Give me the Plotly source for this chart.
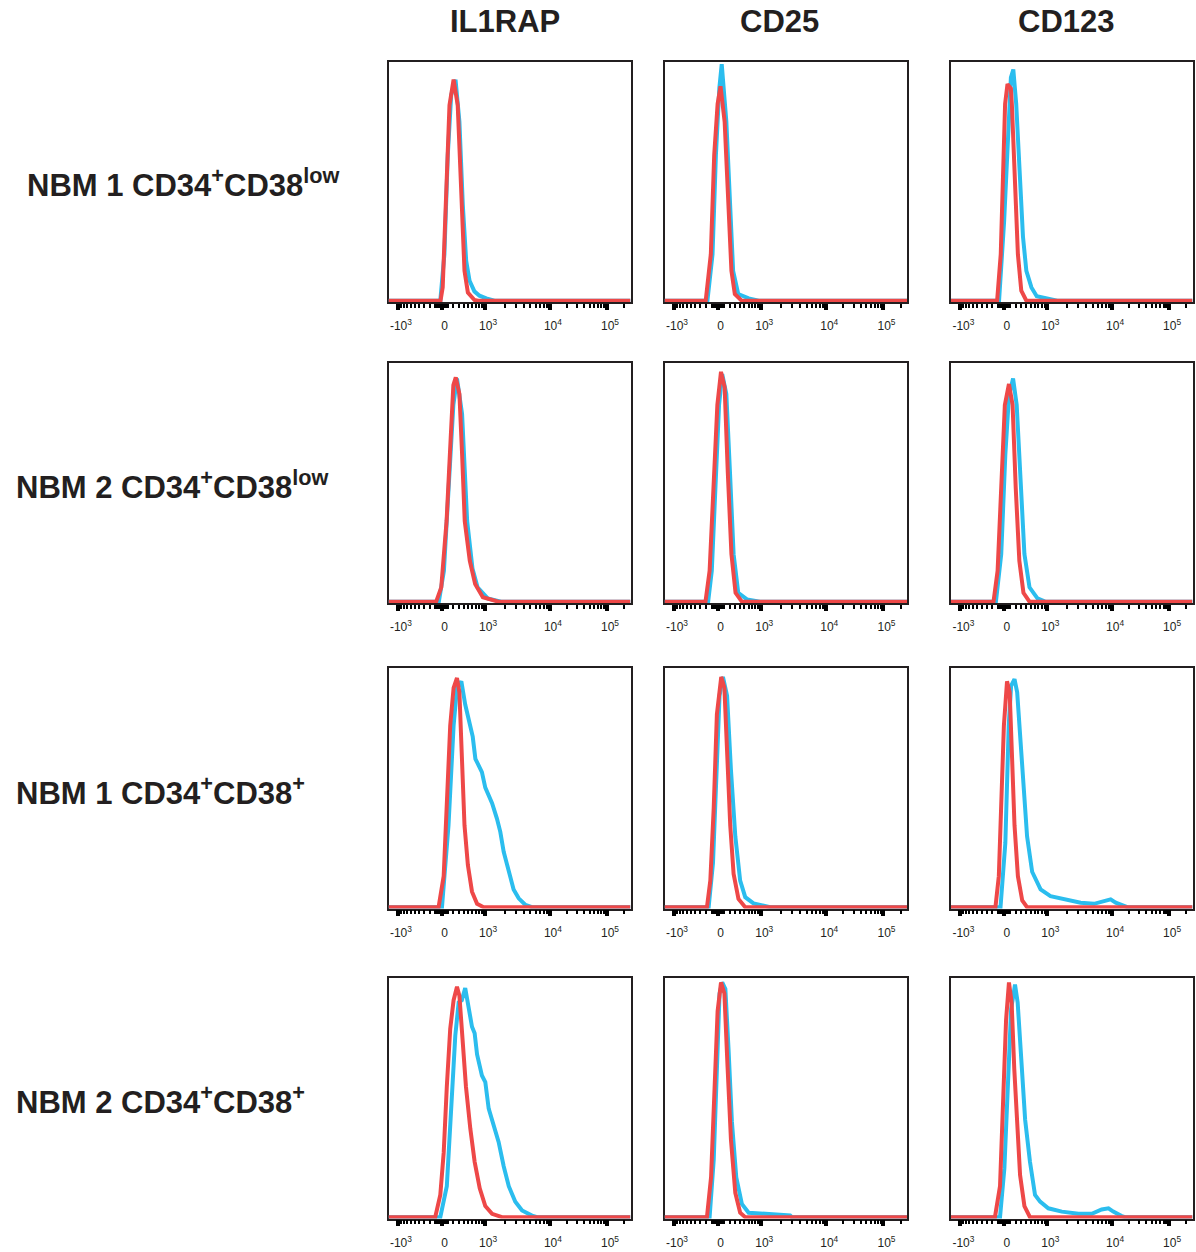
import numpy as np
import plotly.graph_objects as go

# ---------------- labels ----------------
COLUMN_TITLES = ["IL1RAP", "CD25", "CD123"]
ROW_TITLES = [
    "NBM 1 CD34<sup>+</sup>CD38<sup>low</sup>",
    "NBM 2 CD34<sup>+</sup>CD38<sup>low</sup>",
    "NBM 1 CD34<sup>+</sup>CD38<sup>+</sup>",
    "NBM 2 CD34<sup>+</sup>CD38<sup>+</sup>",
]
TICK_VALUES = [-1000, 0, 1000, 10000, 100000]
TICK_TEXT = ["-10<sup>3</sup>", "0", "10<sup>3</sup>", "10<sup>4</sup>", "10<sup>5</sup>"]
MINOR_TICK_VALUES = (
    list(range(-900, -100, 100))
    + list(range(-100, 101, 10))
    + list(range(200, 1000, 100))
    + [k * 10 ** d for d in (3, 4) for k in range(2, 10)]
    + [200000]
)

# ---------------- histogram data (x: % of biexponential scale, y: % of mode) ----------------
# Row 1: NBM 1 CD34+CD38low
R1_IL1RAP_RED_X = [0, 21.5, 22.4, 23.8, 25.2, 26.9, 28.6, 30.0, 31.4, 32.8, 35.5, 37, 100]
R1_IL1RAP_RED_Y = [0, 0, 6, 51, 88.5, 100, 88.5, 51, 13.5, 3.7, 0.3, 0, 0]
R1_IL1RAP_BLUE_X = [0, 21.4, 23.1, 24.5, 25.9, 27.7, 29.3, 30.7, 32.1, 33.5, 35.5, 37.6, 40.4, 43.8, 100]
R1_IL1RAP_BLUE_Y = [0, 0, 21, 66, 93, 100, 81, 43.5, 18, 9, 4.2, 2.25, 1, 0, 0]

R1_CD25_RED_X = [0, 17.0, 19.1, 20.5, 21.9, 23.1, 24.8, 26.2, 27.6, 29.0, 31.8, 100]
R1_CD25_RED_Y = [0, 0, 21, 66, 89, 97, 81, 44, 13.5, 3, 0, 0]
R1_CD25_BLUE_X = [0, 17.7, 19.8, 21.2, 22.6, 23.6, 25.5, 26.9, 28.3, 30.4, 34.7, 38.9, 100]
R1_CD25_BLUE_Y = [0, 0, 21, 66, 96, 107, 81, 44, 13.5, 3, 1, 0, 0]

R1_CD123_RED_X = [0, 19.1, 20.6, 21.6, 22.4, 23.4, 24.8, 25.2, 26.7, 27.7, 29.1, 31.2, 100]
R1_CD123_RED_Y = [0, 0, 21, 66, 89, 98, 96, 89, 51, 21, 4.5, 0, 0]
R1_CD123_BLUE_X = [0, 19.9, 22.0, 23.4, 24.8, 25.8, 27.0, 28.4, 29.8, 31.2, 33.3, 35.5, 39.7, 44.0, 100]
R1_CD123_BLUE_Y = [0, 0, 36, 74, 101, 104.6, 89, 59, 29, 13.5, 6, 2, 1, 0, 0]

# Row 2: NBM 2 CD34+CD38low
R2_IL1RAP_RED_X = [0, 19.7, 21.8, 24.0, 25.7, 26.8, 27.8, 29.3, 30.4, 31.5, 33.6, 35.8, 39.0, 45.4, 100]
R2_IL1RAP_RED_Y = [0, 0, 6.5, 36.5, 74, 98, 101.5, 94, 67, 36.5, 18.5, 8, 2, 0, 0]
R2_IL1RAP_BLUE_X = [0, 20.8, 22.9, 25.0, 26.8, 28.3, 30.4, 32.5, 34.7, 36.8, 41.0, 46.5, 100]
R2_IL1RAP_BLUE_Y = [0, 0, 14, 51.6, 89, 101, 85, 36.5, 15, 6.5, 1.5, 0, 0]

R2_CD25_RED_X = [0, 16.9, 18.6, 20.3, 21.8, 23.3, 24.8, 26.1, 27.6, 29.3, 31.9, 100]
R2_CD25_RED_Y = [0, 0, 14, 51.6, 89, 104, 97, 58.6, 21.5, 4, 0, 0]
R2_CD25_BLUE_X = [0, 18.0, 19.5, 21.2, 22.5, 23.8, 25.5, 27.0, 28.5, 30.4, 34.0, 39.4, 100]
R2_CD25_BLUE_Y = [0, 0, 14, 51.6, 89, 103, 94, 58.6, 21.5, 4, 1, 0, 0]

R2_CD123_RED_X = [0, 17.6, 19.3, 20.8, 22.3, 24.0, 25.5, 26.8, 28.3, 30.0, 32.5, 100]
R2_CD123_RED_Y = [0, 0, 14, 51.6, 89, 98.5, 89, 51.6, 18.5, 4, 0, 0]
R2_CD123_BLUE_X = [0, 18.6, 20.8, 22.5, 24.0, 25.7, 27.2, 28.9, 30.4, 32.5, 35.8, 39.0, 100]
R2_CD123_BLUE_Y = [0, 0, 21.5, 66.6, 93, 101, 89, 51.6, 21.5, 6.5, 1.5, 0, 0]

# Row 3: NBM 1 CD34+CD38+
R3_IL1RAP_RED_X = [0, 20.7, 22.8, 24.1, 25.5, 26.9, 28.3, 29.3, 30.3, 31.4, 32.8, 34.5, 36.6, 39.3, 100]
R3_IL1RAP_RED_Y = [0, 0, 14, 44, 82, 99, 103.5, 97, 67, 37, 19, 7, 1.5, 0, 0]
R3_IL1RAP_BLUE_X = [0, 22.1, 24.8, 26.9, 28.3, 30.1, 31.7, 33.1, 34.8, 35.9, 38.6, 40.0, 42.8, 44.8,
                    46.2, 47.6, 49.7, 51.7, 53.8, 56.6, 59.3, 100]
R3_IL1RAP_BLUE_Y = [0, 0, 37, 82, 99, 102, 91.5, 84, 77, 67, 61, 54, 47, 40,
                    34, 25, 16, 8, 4, 1, 0, 0]

R3_CD25_RED_X = [0, 17.5, 18.9, 20.3, 21.6, 23.4, 24.7, 25.8, 27.1, 28.5, 30.5, 33.3, 100]
R3_CD25_RED_Y = [0, 0, 12, 45, 87, 104, 99, 70, 37, 15, 3.7, 0, 0]
R3_CD25_BLUE_X = [0, 18.2, 20.0, 21.4, 22.7, 24.1, 25.8, 27.4, 29.2, 31.2, 33.3, 36.7, 42.2, 43.6, 100]
R3_CD25_BLUE_Y = [0, 0, 20, 62, 95.5, 104, 95.5, 62, 32, 12, 4.5, 1.7, 0.5, 0, 0]

R3_CD123_RED_X = [0, 18.4, 19.8, 20.9, 21.9, 23.2, 24.3, 25.3, 26.3, 27.7, 29.5, 31.5, 100]
R3_CD123_RED_Y = [0, 0, 14, 44, 82, 102, 97, 67, 37, 14, 3, 0, 0]
R3_CD123_BLUE_X = [0, 20.5, 22.5, 23.9, 24.9, 26.3, 27.4, 28.8, 30.2, 31.5, 33.6, 37.1, 41.2, 46.7,
                   53.7, 59.2, 63.3, 66.1, 68.2, 71.6, 73.0, 100]
R3_CD123_BLUE_Y = [0, 0, 29, 82, 100, 103, 97, 74, 52, 32, 16, 8, 5, 3.5,
                   2, 1.5, 2.6, 3.5, 2, 0.4, 0, 0]

# Row 4: NBM 2 CD34+CD38+
R4_IL1RAP_RED_X = [0, 19.3, 21.4, 22.8, 24.1, 25.5, 26.9, 28.3, 29.3, 30.6, 32.0, 33.8, 35.6, 37.7,
                   40.0, 42.8, 46.9, 100]
R4_IL1RAP_RED_Y = [0, 0, 10, 29, 59, 85, 98, 104, 100, 82, 59, 40, 25, 13,
                   5, 1.5, 0, 0]
R4_IL1RAP_BLUE_X = [0, 21.4, 24.1, 26.2, 27.6, 29.0, 30.3, 31.7, 33.1, 34.5, 35.6, 36.6, 38.6, 40.0,
                    41.4, 43.4, 45.5, 47.6, 49.7, 52.4, 55.2, 59.3, 61.4, 100]
R4_IL1RAP_BLUE_Y = [0, 0, 14, 52, 82, 97, 98, 103.5, 94, 86, 83, 73.5, 64, 61,
                    49, 41, 34, 23, 14, 7, 3, 0.7, 0, 0]

R4_CD25_RED_X = [0, 17.5, 19.2, 20.5, 21.9, 23.3, 24.7, 26.0, 27.4, 29.2, 31.2, 33.3, 100]
R4_CD25_RED_Y = [0, 0, 18, 60, 93, 106, 101, 68, 35, 11, 2, 0, 0]
R4_CD25_BLUE_X = [0, 18.6, 20.3, 21.6, 22.7, 23.8, 25.1, 26.4, 27.8, 29.6, 31.9, 34.7, 42.2, 51.8, 52.5, 100]
R4_CD25_BLUE_Y = [0, 0, 26, 68, 101, 106, 103, 76, 43, 18, 6, 2, 1.3, 0.8, 0, 0]

R4_CD123_RED_X = [0, 18.2, 20.3, 21.7, 22.8, 24.0, 25.1, 26.2, 27.2, 28.6, 30.4, 32.7, 100]
R4_CD123_RED_Y = [0, 0, 14, 52, 89, 106, 97, 67, 44, 19, 5, 0, 0]
R4_CD123_BLUE_X = [0, 20.3, 22.1, 23.8, 24.9, 25.8, 26.5, 27.6, 29.0, 30.7, 32.7, 34.8, 36.9, 40.3,
                   45.9, 52.8, 58.3, 62.4, 65.2, 67.2, 70.7, 72.1, 100]
R4_CD123_BLUE_Y = [0, 0, 22, 67, 94, 100, 105, 97, 74, 44, 25, 10, 7, 4,
                   2.5, 1.5, 1.5, 3.5, 4, 2.5, 0.5, 0, 0]

PANELS = [
    (0, 0, R1_IL1RAP_RED_X, R1_IL1RAP_RED_Y, R1_IL1RAP_BLUE_X, R1_IL1RAP_BLUE_Y),
    (0, 1, R1_CD25_RED_X, R1_CD25_RED_Y, R1_CD25_BLUE_X, R1_CD25_BLUE_Y),
    (0, 2, R1_CD123_RED_X, R1_CD123_RED_Y, R1_CD123_BLUE_X, R1_CD123_BLUE_Y),
    (1, 0, R2_IL1RAP_RED_X, R2_IL1RAP_RED_Y, R2_IL1RAP_BLUE_X, R2_IL1RAP_BLUE_Y),
    (1, 1, R2_CD25_RED_X, R2_CD25_RED_Y, R2_CD25_BLUE_X, R2_CD25_BLUE_Y),
    (1, 2, R2_CD123_RED_X, R2_CD123_RED_Y, R2_CD123_BLUE_X, R2_CD123_BLUE_Y),
    (2, 0, R3_IL1RAP_RED_X, R3_IL1RAP_RED_Y, R3_IL1RAP_BLUE_X, R3_IL1RAP_BLUE_Y),
    (2, 1, R3_CD25_RED_X, R3_CD25_RED_Y, R3_CD25_BLUE_X, R3_CD25_BLUE_Y),
    (2, 2, R3_CD123_RED_X, R3_CD123_RED_Y, R3_CD123_BLUE_X, R3_CD123_BLUE_Y),
    (3, 0, R4_IL1RAP_RED_X, R4_IL1RAP_RED_Y, R4_IL1RAP_BLUE_X, R4_IL1RAP_BLUE_Y),
    (3, 1, R4_CD25_RED_X, R4_CD25_RED_Y, R4_CD25_BLUE_X, R4_CD25_BLUE_Y),
    (3, 2, R4_CD123_RED_X, R4_CD123_RED_Y, R4_CD123_BLUE_X, R4_CD123_BLUE_Y),
]

# ---------------- geometry & style ----------------
W, H = 1196, 1252
COLS_PX = [(388.5, 630.5), (664.5, 907.0), (951.0, 1192.5)]
ROWS_PX = [(62.0, 302.0), (363.0, 603.0), (668.0, 908.5), (978.0, 1218.5)]
HEADER_X_PX = [505, 779, 1066]
HEADER_Y_PX = 22
ROW_LABEL_X_PX = [25, 14, 14, 14]
ROW_LABEL_Y_PX = [183, 485, 791, 1100]

RED = "#EE4848"
BLUE = "#2BBDEE"
INK = "#231F20"
FONT = "Liberation Sans, Arial, sans-serif"


def px_x(p):
    return p / W


def px_y(p):
    return 1 - p / H


def biex(v):
    """Biexponential (logicle-like) display position, in % of the axis width."""
    v = float(v)
    zero, lin_half = 21.9, 18.0
    if abs(v) <= 1000:
        return zero + lin_half * np.arcsinh(v / 480.0) / np.arcsinh(1000 / 480.0)
    if v < 0:
        return zero - lin_half
    if v <= 1e4:
        return 39.9 + 26.8 * np.log10(v / 1e3)
    return 66.7 + 23.6 * np.log10(v / 1e4)


fig = go.Figure()
layout = {}
for i, (r, c, rx, ry, bx, by) in enumerate(PANELS):
    n = i + 1
    xa = "x" if n == 1 else f"x{n}"
    ya = "y" if n == 1 else f"y{n}"
    fig.add_trace(go.Scatter(x=bx, y=by, xaxis=xa, yaxis=ya, mode="lines",
                             line=dict(color=BLUE, width=4), hoverinfo="skip", showlegend=False))
    fig.add_trace(go.Scatter(x=rx, y=ry, xaxis=xa, yaxis=ya, mode="lines",
                             line=dict(color=RED, width=4), hoverinfo="skip", showlegend=False))
    x0, x1 = COLS_PX[c]
    y0, y1 = ROWS_PX[r]
    suffix = "" if n == 1 else str(n)
    layout["xaxis" + suffix] = dict(
        domain=[px_x(x0), px_x(x1)], range=[0, 100], anchor=ya,
        showline=True, linecolor=INK, linewidth=1.5, mirror=True,
        showgrid=False, zeroline=False, fixedrange=True, layer="below traces",
        ticks="outside", tickmode="array",
        tickvals=[biex(v) for v in TICK_VALUES], ticktext=TICK_TEXT,
        ticklen=6, tickwidth=4, tickcolor="black",
        tickfont=dict(family=FONT, size=12, color=INK),
        ticklabelstandoff=6, ticklabelshift=3,
        minor=dict(tickmode="array", tickvals=[biex(v) for v in MINOR_TICK_VALUES],
                   ticks="outside", ticklen=4, tickwidth=2, tickcolor="black",
                   showgrid=False),
    )
    layout["yaxis" + suffix] = dict(
        domain=[px_y(y1), px_y(y0)], range=[-0.6, 108], anchor=xa,
        showline=True, linecolor=INK, linewidth=1.5, mirror=True,
        showgrid=False, zeroline=False, showticklabels=False, ticks="",
        fixedrange=True, layer="below traces",
    )

annotations = []
for j, t in enumerate(COLUMN_TITLES):
    annotations.append(dict(text=f"<b>{t}</b>", x=px_x(HEADER_X_PX[j]), y=px_y(HEADER_Y_PX),
                            xref="paper", yref="paper", xanchor="center", yanchor="middle",
                            showarrow=False, font=dict(family=FONT, size=31, color=INK)))
for k, t in enumerate(ROW_TITLES):
    annotations.append(dict(text=f"<b>{t}</b>", x=px_x(ROW_LABEL_X_PX[k]), y=px_y(ROW_LABEL_Y_PX[k]),
                            xref="paper", yref="paper", xanchor="left", yanchor="middle",
                            showarrow=False, font=dict(family=FONT, size=31, color=INK)))

fig.update_layout(
    width=W, height=H, margin=dict(l=0, r=0, t=0, b=0, pad=0),
    paper_bgcolor="white", plot_bgcolor="white",
    showlegend=False, annotations=annotations, **layout,
)
# remove the default page margin so the figure fills the window exactly
fig.write_html("out.html", config={"displayModeBar": False},
               post_script="document.body.style.margin='0';")
